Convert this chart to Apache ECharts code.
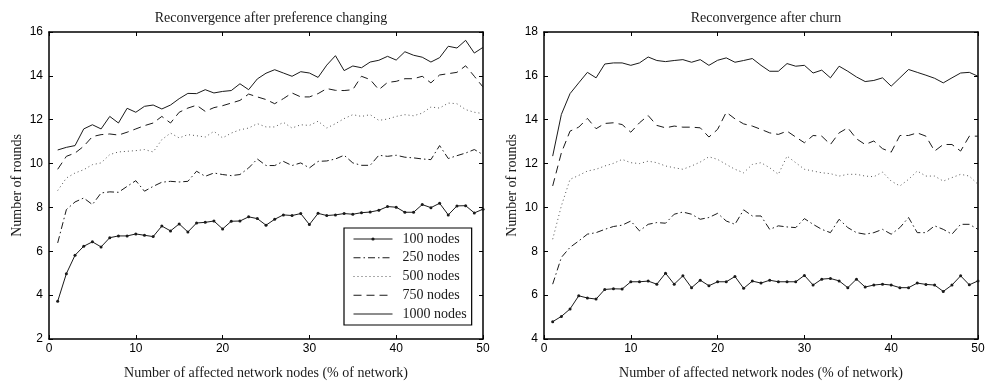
<!DOCTYPE html>
<html>
<head>
<meta charset="utf-8">
<script src="https://cdn.jsdelivr.net/npm/echarts@6/dist/echarts.min.js"></script>
<style>
  html, body { margin: 0; padding: 0; background: #fff; }
  #main { width: 989px; height: 385px; }
</style>
</head>
<body>
<div id="main"></div>
<script>
// percentage of affected nodes (x)
var pct = [1, 2, 3, 4, 5, 6, 7, 8, 9, 10, 11, 12, 13, 14, 15, 16, 17, 18, 19, 20,
  21, 22, 23, 24, 25, 26, 27, 28, 29, 30, 31, 32, 33, 34, 35, 36, 37, 38, 39, 40,
  41, 42, 43, 44, 45, 46, 47, 48, 49, 50];

var seriesNames = ["100 nodes", "250 nodes", "500 nodes", "750 nodes", "1000 nodes"];

// left: reconvergence after preference changing
var pref100 = [3.72, 4.98, 5.82, 6.23, 6.43, 6.2, 6.62, 6.7, 6.7, 6.79, 6.73, 6.67, 7.15, 6.93, 7.25, 6.88, 7.29, 7.32, 7.38, 7.02,
  7.37, 7.38, 7.57, 7.49, 7.19, 7.46, 7.66, 7.63, 7.72, 7.22, 7.73, 7.63, 7.66, 7.72, 7.69, 7.76, 7.79, 7.87, 8.04, 8.01,
  7.78, 7.78, 8.13, 7.99, 8.19, 7.66, 8.07, 8.08, 7.75, 7.92];
var pref250 = [6.38, 7.9, 8.25, 8.43, 8.13, 8.66, 8.71, 8.69, 8.96, 9.22, 8.74, 8.96, 9.15, 9.19, 9.16, 9.19, 9.65, 9.42, 9.57, 9.5,
  9.45, 9.5, 9.8, 10.21, 9.91, 9.91, 10.1, 9.91, 10.03, 9.8, 10.1, 10.12, 10.21, 10.38, 10.03, 9.92, 9.92, 10.38, 10.33, 10.38,
  10.29, 10.26, 10.21, 10.18, 10.82, 10.23, 10.36, 10.48, 10.64, 10.41];
var pref500 = [8.77, 9.34, 9.57, 9.72, 9.95, 10.03, 10.41, 10.53, 10.56, 10.59, 10.64, 10.53, 11.09, 11.39, 11.17, 11.32, 11.27, 11.21, 11.47, 11.17,
  11.39, 11.54, 11.62, 11.82, 11.67, 11.67, 11.88, 11.62, 11.77, 11.74, 11.93, 11.62, 11.82, 12.05, 12.23, 12.15, 12.23, 11.97, 12.03, 12.15,
  12.23, 12.18, 12.3, 12.58, 12.53, 12.76, 12.73, 12.46, 12.34, 12.28];
var pref750 = [9.74, 10.33, 10.48, 10.79, 11.23, 11.32, 11.35, 11.3, 11.43, 11.58, 11.73, 11.85, 12.15, 11.85, 12.34, 12.53, 12.66, 12.38, 12.55, 12.64,
  12.76, 12.88, 13.17, 13.04, 12.92, 12.73, 12.96, 13.22, 13.04, 13.04, 13.19, 13.42, 13.34, 13.33, 13.37, 13.98, 13.83, 13.37, 13.7, 13.75,
  13.87, 13.87, 13.98, 13.68, 14.04, 14.1, 14.16, 14.46, 13.98, 13.49];
var pref1000 = [10.62, 10.74, 10.82, 11.58, 11.77, 11.58, 12.15, 11.85, 12.52, 12.34, 12.61, 12.67, 12.49, 12.67, 12.96, 13.2, 13.19, 13.37, 13.22, 13.29,
  13.33, 13.64, 13.37, 13.86, 14.12, 14.28, 14.13, 13.98, 14.19, 14.13, 13.93, 14.49, 14.92, 14.24, 14.45, 14.37, 14.63, 14.71, 14.89, 14.72,
  15.1, 14.94, 14.85, 14.63, 14.83, 15.35, 15.27, 15.62, 15.04, 15.3];

// right: reconvergence after churn
var churn100 = [4.79, 5.03, 5.37, 5.97, 5.87, 5.82, 6.26, 6.29, 6.28, 6.61, 6.61, 6.64, 6.5, 7.0, 6.5, 6.88, 6.34, 6.68, 6.43, 6.61,
  6.61, 6.85, 6.31, 6.64, 6.55, 6.68, 6.61, 6.61, 6.61, 6.9, 6.46, 6.73, 6.76, 6.65, 6.34, 6.73, 6.37, 6.46, 6.5, 6.46,
  6.34, 6.34, 6.55, 6.49, 6.46, 6.17, 6.46, 6.88, 6.47, 6.65];
var churn250 = [6.5, 7.72, 8.18, 8.47, 8.78, 8.85, 9.0, 9.13, 9.19, 9.38, 8.93, 9.23, 9.31, 9.28, 9.69, 9.79, 9.69, 9.46, 9.54, 9.73,
  9.38, 9.23, 9.89, 9.61, 9.61, 9.0, 9.16, 9.11, 9.08, 9.49, 9.23, 9.0, 8.85, 9.46, 9.08, 8.85, 8.78, 8.85, 9.0, 8.78,
  9.08, 9.54, 8.85, 8.85, 9.16, 9.0, 8.78, 9.23, 9.23, 9.0];
var churn500 = [8.55, 10.07, 11.28, 11.46, 11.66, 11.74, 11.89, 12.01, 12.19, 12.04, 12.0, 12.11, 12.04, 11.89, 11.81, 11.74, 11.89, 12.07, 12.31, 12.19,
  11.96, 11.74, 11.58, 11.96, 12.04, 11.81, 11.51, 12.34, 12.04, 11.74, 11.66, 11.58, 11.54, 11.43, 11.51, 11.51, 11.43, 11.4, 11.61, 11.2,
  10.98, 11.28, 11.66, 11.43, 11.43, 11.2, 11.36, 11.51, 11.43, 11.05];
var churn750 = [10.98, 12.49, 13.48, 13.66, 14.06, 13.59, 13.83, 13.86, 13.78, 13.43, 13.86, 14.19, 13.74, 13.63, 13.71, 13.66, 13.66, 13.63, 13.21, 13.56,
  14.34, 14.04, 13.81, 13.71, 13.56, 13.4, 13.33, 13.48, 13.21, 12.95, 13.28, 13.25, 12.87, 13.4, 13.63, 13.13, 12.87, 13.03, 12.68, 12.52,
  13.28, 13.28, 13.4, 13.25, 12.57, 12.87, 12.87, 12.57, 13.25, 13.25];
var churn1000 = [12.34, 14.24, 15.19, 15.68, 16.16, 15.91, 16.54, 16.59, 16.59, 16.48, 16.59, 16.86, 16.7, 16.65, 16.7, 16.74, 16.62, 16.74, 16.48, 16.71,
  16.82, 16.62, 16.7, 16.79, 16.48, 16.21, 16.21, 16.56, 16.44, 16.48, 16.13, 16.26, 15.91, 16.44, 16.21, 15.95, 15.74, 15.79, 15.91, 15.53,
  15.91, 16.29, 16.16, 16.03, 15.89, 15.68, 15.91, 16.13, 16.16, 15.98];

var serif = "Liberation Serif";
var sans = "Liberation Sans";
var ink = "#1a1a1a";

// line look per node count
var styles = [
  { type: "solid", symbol: true },
  { type: [7, 3, 1.5, 3] },
  { type: [1, 3], color: "#555" },
  { type: [8, 5] },
  { type: "solid" }
];

function pairs(ys) {
  return pct.map(function (x, i) {
    return [x, ys[i]];
  });
}

function makeSeries(name, ys, k, grid) {
  var st = styles[k];
  var c = st.color || ink;
  return {
    name: name,
    type: "line",
    xAxisIndex: grid * 2,
    yAxisIndex: grid * 2,
    data: pairs(ys),
    symbol: st.symbol ? "circle" : "none",
    symbolSize: 3,
    showSymbol: !!st.symbol,
    itemStyle: { color: c },
    lineStyle: { color: c, width: 1, type: st.type },
    emphasis: { disabled: true },
    animation: false
  };
}

function xAx(grid, pos, main) {
  return {
    type: "value",
    gridIndex: grid,
    position: pos,
    min: 0,
    max: 50,
    interval: 10,
    name: main ? "Number of affected network nodes (% of network)" : "",
    nameLocation: "middle",
    nameGap: 27,
    nameTextStyle: { fontFamily: serif, fontSize: 14, color: ink },
    axisLine: { show: true, onZero: false, lineStyle: { color: "#000", width: 1.5 } },
    axisTick: { show: true, inside: true, length: 4, lineStyle: { color: "#000" } },
    axisLabel: { show: main, fontFamily: sans, fontSize: 12, color: "#000", margin: 4 },
    splitLine: { show: false }
  };
}

function yAx(grid, pos, main, lo, hi) {
  return {
    type: "value",
    gridIndex: grid,
    position: pos,
    min: lo,
    max: hi,
    interval: 2,
    name: main ? "Number of rounds" : "",
    nameLocation: "middle",
    nameGap: 25,
    nameTextStyle: { fontFamily: serif, fontSize: 14, color: ink },
    axisLine: { show: true, onZero: false, lineStyle: { color: "#000", width: 1.5 } },
    axisTick: { show: true, inside: true, length: 4, lineStyle: { color: "#000" } },
    axisLabel: { show: main, fontFamily: sans, fontSize: 12, color: "#000", margin: 6 },
    splitLine: { show: false }
  };
}

var prefData = [pref100, pref250, pref500, pref750, pref1000];
var churnData = [churn100, churn250, churn500, churn750, churn1000];
var series = [];
seriesNames.forEach(function (n, k) {
  series.push(makeSeries(n, prefData[k], k, 0));
});
seriesNames.forEach(function (n, k) {
  series.push(makeSeries(n, churnData[k], k, 1));
});

// legend: only the 100 nodes entry keeps its marker
var legendItems = seriesNames.map(function (n, k) {
  return k === 0 ? { name: n } : { name: n, itemStyle: { opacity: 0 } };
});

var myChart = echarts.init(document.getElementById("main"), null, { renderer: "canvas" });
myChart.setOption({
  backgroundColor: "#fff",
  animation: false,
  title: [
    {
      text: "Reconvergence after preference changing",
      left: 266,
      textAlign: "center",
      top: 6,
      textStyle: { fontFamily: serif, fontSize: 14, fontWeight: "normal", color: ink }
    },
    {
      text: "Reconvergence after churn",
      left: 761,
      textAlign: "center",
      top: 6,
      textStyle: { fontFamily: serif, fontSize: 14, fontWeight: "normal", color: ink }
    }
  ],
  legend: {
    data: legendItems,
    orient: "vertical",
    left: 344,
    top: 228,
    padding: [4, 5, 4, 9],
    itemWidth: 39,
    itemHeight: 4,
    itemGap: 4.75,
    borderColor: "#000",
    borderWidth: 1.2,
    backgroundColor: "#fff",
    selectedMode: false,
    lineStyle: { width: 1 },
    textStyle: { fontFamily: serif, fontSize: 14, color: ink, padding: [0, 0, 0, 5] }
  },
  grid: [
    { left: 49, right: 506, top: 32, bottom: 46 },
    { left: 544, right: 11, top: 32, bottom: 45 }
  ],
  xAxis: [
    xAx(0, "bottom", true),
    xAx(0, "top", false),
    xAx(1, "bottom", true),
    xAx(1, "top", false)
  ],
  yAxis: [
    yAx(0, "left", true, 2, 16),
    yAx(0, "right", false, 2, 16),
    yAx(1, "left", true, 4, 18),
    yAx(1, "right", false, 4, 18)
  ],
  series: series
});
</script>
</body>
</html>
